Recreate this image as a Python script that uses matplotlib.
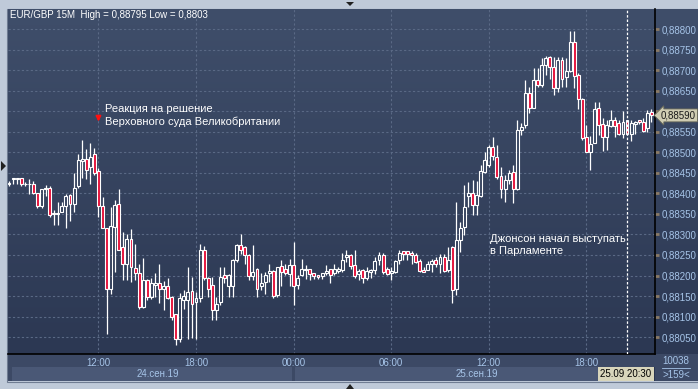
import numpy as np
import pandas as pd
import matplotlib
matplotlib.use('Agg')
import matplotlib.pyplot as plt
from matplotlib.colors import LinearSegmentedColormap
from matplotlib.patches import Rectangle, Polygon
from matplotlib.ticker import FuncFormatter

# EUR/GBP 15M, котировки в пунктах (1e-5), свечи с 24.09.2019 06:30
opens = [88422, 88434, 88436, 88438, 88423, 88423, 88424, 88400, 88370, 88412,
         88414, 88349, 88349, 88355, 88370, 88396, 88375, 88418, 88480, 88485,
         88464, 88495, 88455, 88370, 88315, 88168, 88318, 88375, 88269, 88229,
         88290, 88219, 88205, 88123, 88190, 88148, 88177, 88181, 88167, 88174,
         88148, 88105, 88045, 88140, 88140, 88162, 88135, 88144, 88263, 88195,
         88176, 88116, 88135, 88201, 88174, 88174, 88237, 88275, 88269, 88249,
         88199, 88215, 88174, 88185, 88205, 88211, 88152, 88223, 88217, 88203,
         88225, 88178, 88201, 88213, 88215, 88205, 88201, 88199, 88206, 88215,
         88205, 88211, 88213, 88244, 88249, 88225, 88203, 88214, 88195, 88208,
         88214, 88239, 88249, 88215, 88205, 88208, 88239, 88259, 88259, 88255,
         88249, 88235, 88214, 88214, 88229, 88239, 88229, 88244, 88213, 88269,
         88168, 88286, 88319, 88394, 88400, 88372, 88394, 88453, 88469, 88514,
         88489, 88443, 88410, 88432, 88453, 88410, 88554, 88567, 88644, 88609,
         88676, 88664, 88714, 88733, 88709, 88656, 88725, 88684, 88699, 88770,
         88689, 88630, 88538, 88502, 88524, 88609, 88570, 88538, 88564, 88580,
         88572, 88546, 88578, 88546, 88570, 88580, 88574, 88560, 88599]
closes = [88425, 88438, 88438, 88424, 88422, 88424, 88400, 88370, 88410, 88414,
          88347, 88353, 88353, 88370, 88394, 88375, 88414, 88481, 88485, 88458,
          88490, 88449, 88370, 88315, 88168, 88320, 88371, 88263, 88229, 88290,
          88221, 88205, 88123, 88190, 88148, 88181, 88181, 88168, 88175, 88146,
          88099, 88045, 88144, 88150, 88160, 88130, 88144, 88263, 88195, 88168,
          88116, 88130, 88197, 88195, 88201, 88239, 88275, 88263, 88249, 88199,
          88209, 88168, 88181, 88201, 88211, 88150, 88221, 88209, 88205, 88225,
          88174, 88194, 88215, 88215, 88203, 88199, 88196, 88205, 88211, 88201,
          88215, 88215, 88239, 88249, 88222, 88198, 88210, 88195, 88211, 88214,
          88235, 88249, 88208, 88203, 88211, 88235, 88255, 88253, 88253, 88249,
          88233, 88211, 88209, 88229, 88235, 88227, 88244, 88211, 88239, 88164,
          88286, 88315, 88367, 88400, 88372, 88396, 88455, 88481, 88514, 88492,
          88441, 88410, 88432, 88449, 88410, 88554, 88562, 88644, 88609, 88676,
          88665, 88714, 88729, 88709, 88657, 88725, 88680, 88699, 88770, 88687,
          88630, 88534, 88502, 88520, 88605, 88566, 88538, 88566, 88580, 88564,
          88544, 88574, 88544, 88571, 88574, 88574, 88552, 88595, 88590]
highs = [88430, 88438, 88438, 88438, 88428, 88435, 88430, 88401, 88412, 88420,
         88418, 88359, 88380, 88380, 88399, 88399, 88449, 88496, 88530, 88509,
         88523, 88511, 88461, 88392, 88315, 88367, 88384, 88412, 88306, 88300,
         88314, 88276, 88229, 88242, 88192, 88193, 88206, 88228, 88187, 88193,
         88150, 88107, 88157, 88164, 88221, 88197, 88160, 88276, 88271, 88197,
         88197, 88148, 88221, 88221, 88203, 88241, 88276, 88300, 88272, 88253,
         88275, 88218, 88205, 88209, 88227, 88213, 88221, 88239, 88227, 88241,
         88282, 88201, 88241, 88225, 88215, 88205, 88201, 88205, 88225, 88215,
         88227, 88221, 88254, 88263, 88253, 88263, 88217, 88216, 88221, 88216,
         88245, 88257, 88255, 88221, 88221, 88239, 88261, 88259, 88260, 88260,
         88255, 88241, 88221, 88235, 88241, 88245, 88253, 88253, 88269, 88271,
         88379, 88331, 88420, 88428, 88432, 88430, 88469, 88501, 88518, 88538,
         88518, 88465, 88445, 88457, 88469, 88579, 88571, 88676, 88660, 88705,
         88705, 88729, 88735, 88735, 88733, 88733, 88733, 88729, 88795, 88795,
         88693, 88633, 88567, 88540, 88623, 88623, 88583, 88580, 88603, 88587,
         88580, 88601, 88580, 88578, 88576, 88580, 88583, 88603, 88605]
lows = [88418, 88422, 88422, 88418, 88418, 88398, 88398, 88365, 88365, 88393,
        88343, 88324, 88323, 88354, 88315, 88332, 88354, 88413, 88438, 88436,
        88424, 88446, 88343, 88315, 88057, 88154, 88208, 88262, 88189, 88189,
        88185, 88189, 88119, 88120, 88140, 88143, 88148, 88132, 88116, 88143,
        88091, 88030, 88037, 88119, 88045, 88048, 88045, 88135, 88190, 88148,
        88091, 88091, 88127, 88181, 88148, 88148, 88233, 88253, 88229, 88189,
        88189, 88148, 88164, 88156, 88185, 88144, 88148, 88174, 88201, 88174,
        88127, 88168, 88199, 88192, 88189, 88191, 88191, 88191, 88201, 88181,
        88201, 88205, 88209, 88233, 88216, 88193, 88189, 88181, 88189, 88195,
        88203, 88225, 88204, 88201, 88189, 88206, 88229, 88237, 88237, 88229,
        88231, 88209, 88208, 88213, 88209, 88221, 88205, 88209, 88209, 88133,
        88152, 88257, 88298, 88367, 88347, 88347, 88391, 88449, 88465, 88481,
        88436, 88388, 88380, 88422, 88376, 88408, 88542, 88559, 88596, 88608,
        88660, 88660, 88688, 88680, 88640, 88648, 88660, 88660, 88697, 88656,
        88607, 88530, 88502, 88457, 88522, 88542, 88503, 88505, 88562, 88538,
        88542, 88534, 88542, 88528, 88546, 88569, 88549, 88549, 88575]

start_time = '2019-09-24 06:30'
cursor_time = '2019-09-25 20:30'
month_ru = 'сен'
title = 'EUR/GBP 15M  High = 0,88795 Low = 0,8803'
note1 = 'Реакция на решение\nВерховного суда Великобритании'
note2 = 'Джонсон начал выступать\nв Парламенте'
counter_top = '10038'

o = np.array(opens) / 1e5
c = np.array(closes) / 1e5
h = np.array(highs) / 1e5
l = np.array(lows) / 1e5
n = len(o)
idx = np.arange(n)
times = pd.date_range(start_time, periods=n, freq='15min')

W, H = 698, 389
def fx(x): return x / W
def fy(y): return 1 - y / H

plt.rcParams['font.family'] = ['Liberation Sans', 'DejaVu Sans']
fig = plt.figure(figsize=(W / 100, H / 100), dpi=100, facecolor='#bfcad9')

# тёмная подложка с градиентом
bg = fig.add_axes([fx(8), fy(354), fx(690), (354 - 9) / H])
bg.axis('off')
cmap = LinearSegmentedColormap.from_list('bg', ['#3f4e6a', '#2c3853'])
bg.imshow(np.linspace(0, 1, 256).reshape(-1, 1), extent=[0, 1, 0, 1],
          aspect='auto', cmap=cmap)
bg.set_xlim(0, 1); bg.set_ylim(0, 1)

# нижняя панель времени (под осями)
def panel(x0, y0, x1, y1, color):
    fig.patches.append(Rectangle((fx(x0), fy(y1)), fx(x1 - x0), (y1 - y0) / H,
                                 transform=fig.transFigure, fc=color, ec='none', zorder=-2))

panel(8, 354, 698, 381, '#3c4965')
panel(12, 367, 292, 381, '#4a5876')
panel(295, 367, 643, 381, '#4a5876')
panel(643, 367, 655, 381, '#2a354f')
fig.patches.append(Rectangle((fx(7.5), fy(381.5)), fx(690.5), 373 / H, transform=fig.transFigure,
                             fc='none', ec='#6f7c92', lw=0.8, zorder=-1))

ax = fig.add_axes([fx(8), fy(354), fx(647), (354 - 9) / H])
ax.set_facecolor('none')
spacing = 4.066
ax.set_xlim(-1 / spacing, (655 - 9) / spacing)
ax.set_ylim(0.880087, 0.888495)

# свечи
up = c >= o
top = np.maximum(o, c)
bot = np.minimum(o, c)
ax.vlines(idx, top, h, color='white', lw=0.9, zorder=3)
ax.vlines(idx, l, bot, color='white', lw=0.9, zorder=3)
ax.bar(idx[up], (top - bot)[up], bottom=bot[up], width=0.72, facecolor='none',
       edgecolor='white', linewidth=0.8, zorder=4)
ax.bar(idx[~up], (top - bot)[~up], bottom=bot[~up], width=0.72, facecolor='#e5103a',
       edgecolor='white', linewidth=0.8, zorder=4)

# оси
for s in ['top', 'left']:
    ax.spines[s].set_visible(False)
for s in ['right', 'bottom']:
    ax.spines[s].set_color('black')
    ax.spines[s].set_linewidth(1.2)
ax.yaxis.tick_right()
yt = np.arange(0.8805, 0.88801, 0.0005)
ax.set_yticks(yt)
last_label = f'{c[-1]:.5f}'.replace('.', ',')
# метку, закрытую плашкой последней цены, не показываем
ax.set_yticklabels(['' if abs(v - c[-1]) < 0.00025 else f'{v:.5f}'.replace('.', ',') for v in yt])
ax.tick_params(axis='y', colors='#8a7a66', labelcolor='#a6c4e8', labelsize=7,
               length=3, width=2, pad=1.5)

tick_mask = (times.minute == 0) & (times.hour % 6 == 0)
ax.set_xticks(idx[tick_mask])
ax.set_xticklabels(times[tick_mask].strftime('%H:%M'))
ax.tick_params(axis='x', length=0, labelcolor='#a6c4e8', labelsize=7, pad=3)

ax.grid(True, color='#5a6985', linestyle=(0, (2, 2)), lw=0.8)
ax.set_axisbelow(True)

# курсор времени
cur = int(np.where(times == pd.Timestamp(cursor_time))[0][0])
ax.axvline(cur, color='white', linestyle=(0, (2, 1.5)), lw=0.9, zorder=5)

# даты в нижней полосе
for day in sorted(set(times.normalize())):
    sel = idx[times.normalize() == day]
    mid = (sel[0] + min(sel[-1], 156)) / 2 + 2
    ax.text(mid, -0.058, f'{day.day:02d}.{month_ru}.{day.strftime("%y")}',
            transform=ax.get_xaxis_transform(), ha='center', va='center',
            color='#a6c4e8', fontsize=7, clip_on=False)

fig.text(fx(626), fy(374), times[cur].strftime('%d.%m %H:%M'), ha='center', va='center',
         fontsize=7, color='black',
         bbox=dict(boxstyle='square,pad=0.25', fc='#d8d5bb', ec='none'))

# последняя цена
fig.text(fx(661), fy(115.4), last_label, ha='left', va='center',
         fontsize=7, color='#1a1a1a', zorder=10,
         bbox=dict(boxstyle='larrow,pad=0.15', fc='#cfccb2', ec='#6a6a5a', lw=0.6))

# счётчик справа снизу
fig.text(fx(676), fy(361), counter_top, ha='center', va='center', fontsize=7, color='#a6c4e8')
fig.text(fx(676), fy(375), f'>{n}<', ha='center', va='center', fontsize=7, color='#a6c4e8')
fig.add_artist(plt.Line2D([fx(662), fx(690)], [fy(368), fy(368)], transform=fig.transFigure,
                          color='#a6c4e8', lw=0.6))

# заголовок и подписи событий
fig.text(fx(10), fy(15), title, ha='left', va='center', fontsize=7, color='white')
ax.text(23.5, 0.88590, note1, ha='left', va='center', fontsize=8, color='white',
        linespacing=1.3, zorder=6)
ax.annotate('', xy=(22, 0.88568), xytext=(22, 0.88594),
            arrowprops=dict(arrowstyle='-|>', color='#ff1010', lw=1.4, mutation_scale=7), zorder=6)
ax.text(118.3, 0.88274, note2, ha='left', va='center', fontsize=8, color='white',
        linespacing=1.3, zorder=6)

# маленькие треугольники рамки
for pts in [[(1, 161), (1, 171), (6, 166)], [(346, 2), (354, 2), (350, 6)],
            [(346, 389), (354, 389), (350, 384)]]:
    fig.patches.append(Polygon([(fx(a), fy(b)) for a, b in pts], closed=True,
                               transform=fig.transFigure, fc='#202020', ec='none'))

fig.savefig('out.png', dpi=100, facecolor=fig.get_facecolor())
